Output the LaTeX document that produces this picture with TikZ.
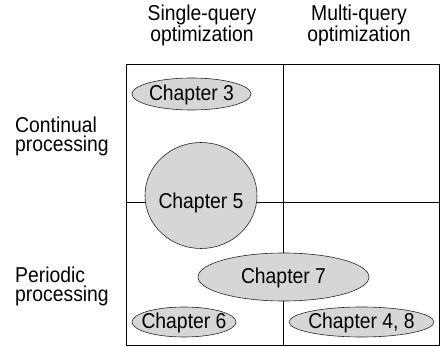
\documentclass[tikz,border=0pt]{standalone}
\usepackage{fontspec}
\setmainfont{Liberation Sans}[FakeStretch=0.9]
\begin{document}
\begin{tikzpicture}[x=1pt, y=-1pt, font=\fontsize{21.5}{19.5}\selectfont, line join=round]
			\def \xl{126};
			\def \xm{283.3};
			\def \xr{439.3};
			\def \yt{64.3};
			\def \ym{202.3};
			\def \yb{345};
			\tikzset{grid/.style={draw=black, line width=0.8pt},
				chap/.style={draw=black!85, fill=black!16, line width=0.6pt},
				side/.style={align=left, anchor=west, inner sep=0pt},
				head/.style={align=center, inner sep=0pt}}
			\useasboundingbox (0,0) rectangle (440,347);
			% quadrants
			\draw[grid] (\xl,\yt) rectangle (\xr,\yb);
			\draw[grid] (\xm,\yt) -- (\xm,\yb) (\xl,\ym) -- (\xr,\ym);
			% column and row labels
			\node[head] (single) at (202,25.4) {Single-query\\optimization};
			\node[head] (multi) at (359,25.4) {Multi-query\\optimization};
			\node[side] (cont) at (15,136.2) {Continual\\processing};
			\node[side] (peri) at (15,286.2) {Periodic\\processing};
			% chapters
			\path[chap] (191.5,94) ellipse (59.5 and 16);
			\node (ch3) at (191.5,95) {Chapter 3};
			\path[chap] (201,195.5) ellipse (56 and 53);
			\node (ch5) at (201,203) {Chapter 5};
			\path[chap] (283.5,277) ellipse (85.5 and 24);
			\node (ch7) at (283.5,278.3) {Chapter 7};
			\path[chap] (184,322) ellipse (52 and 15);
			\node (ch6) at (184,323) {Chapter 6};
			\path[chap] (361.5,322) ellipse (72.5 and 15);
			\node (ch48) at (361.5,323) {Chapter 4, 8};
		\end{tikzpicture}
\end{document}
